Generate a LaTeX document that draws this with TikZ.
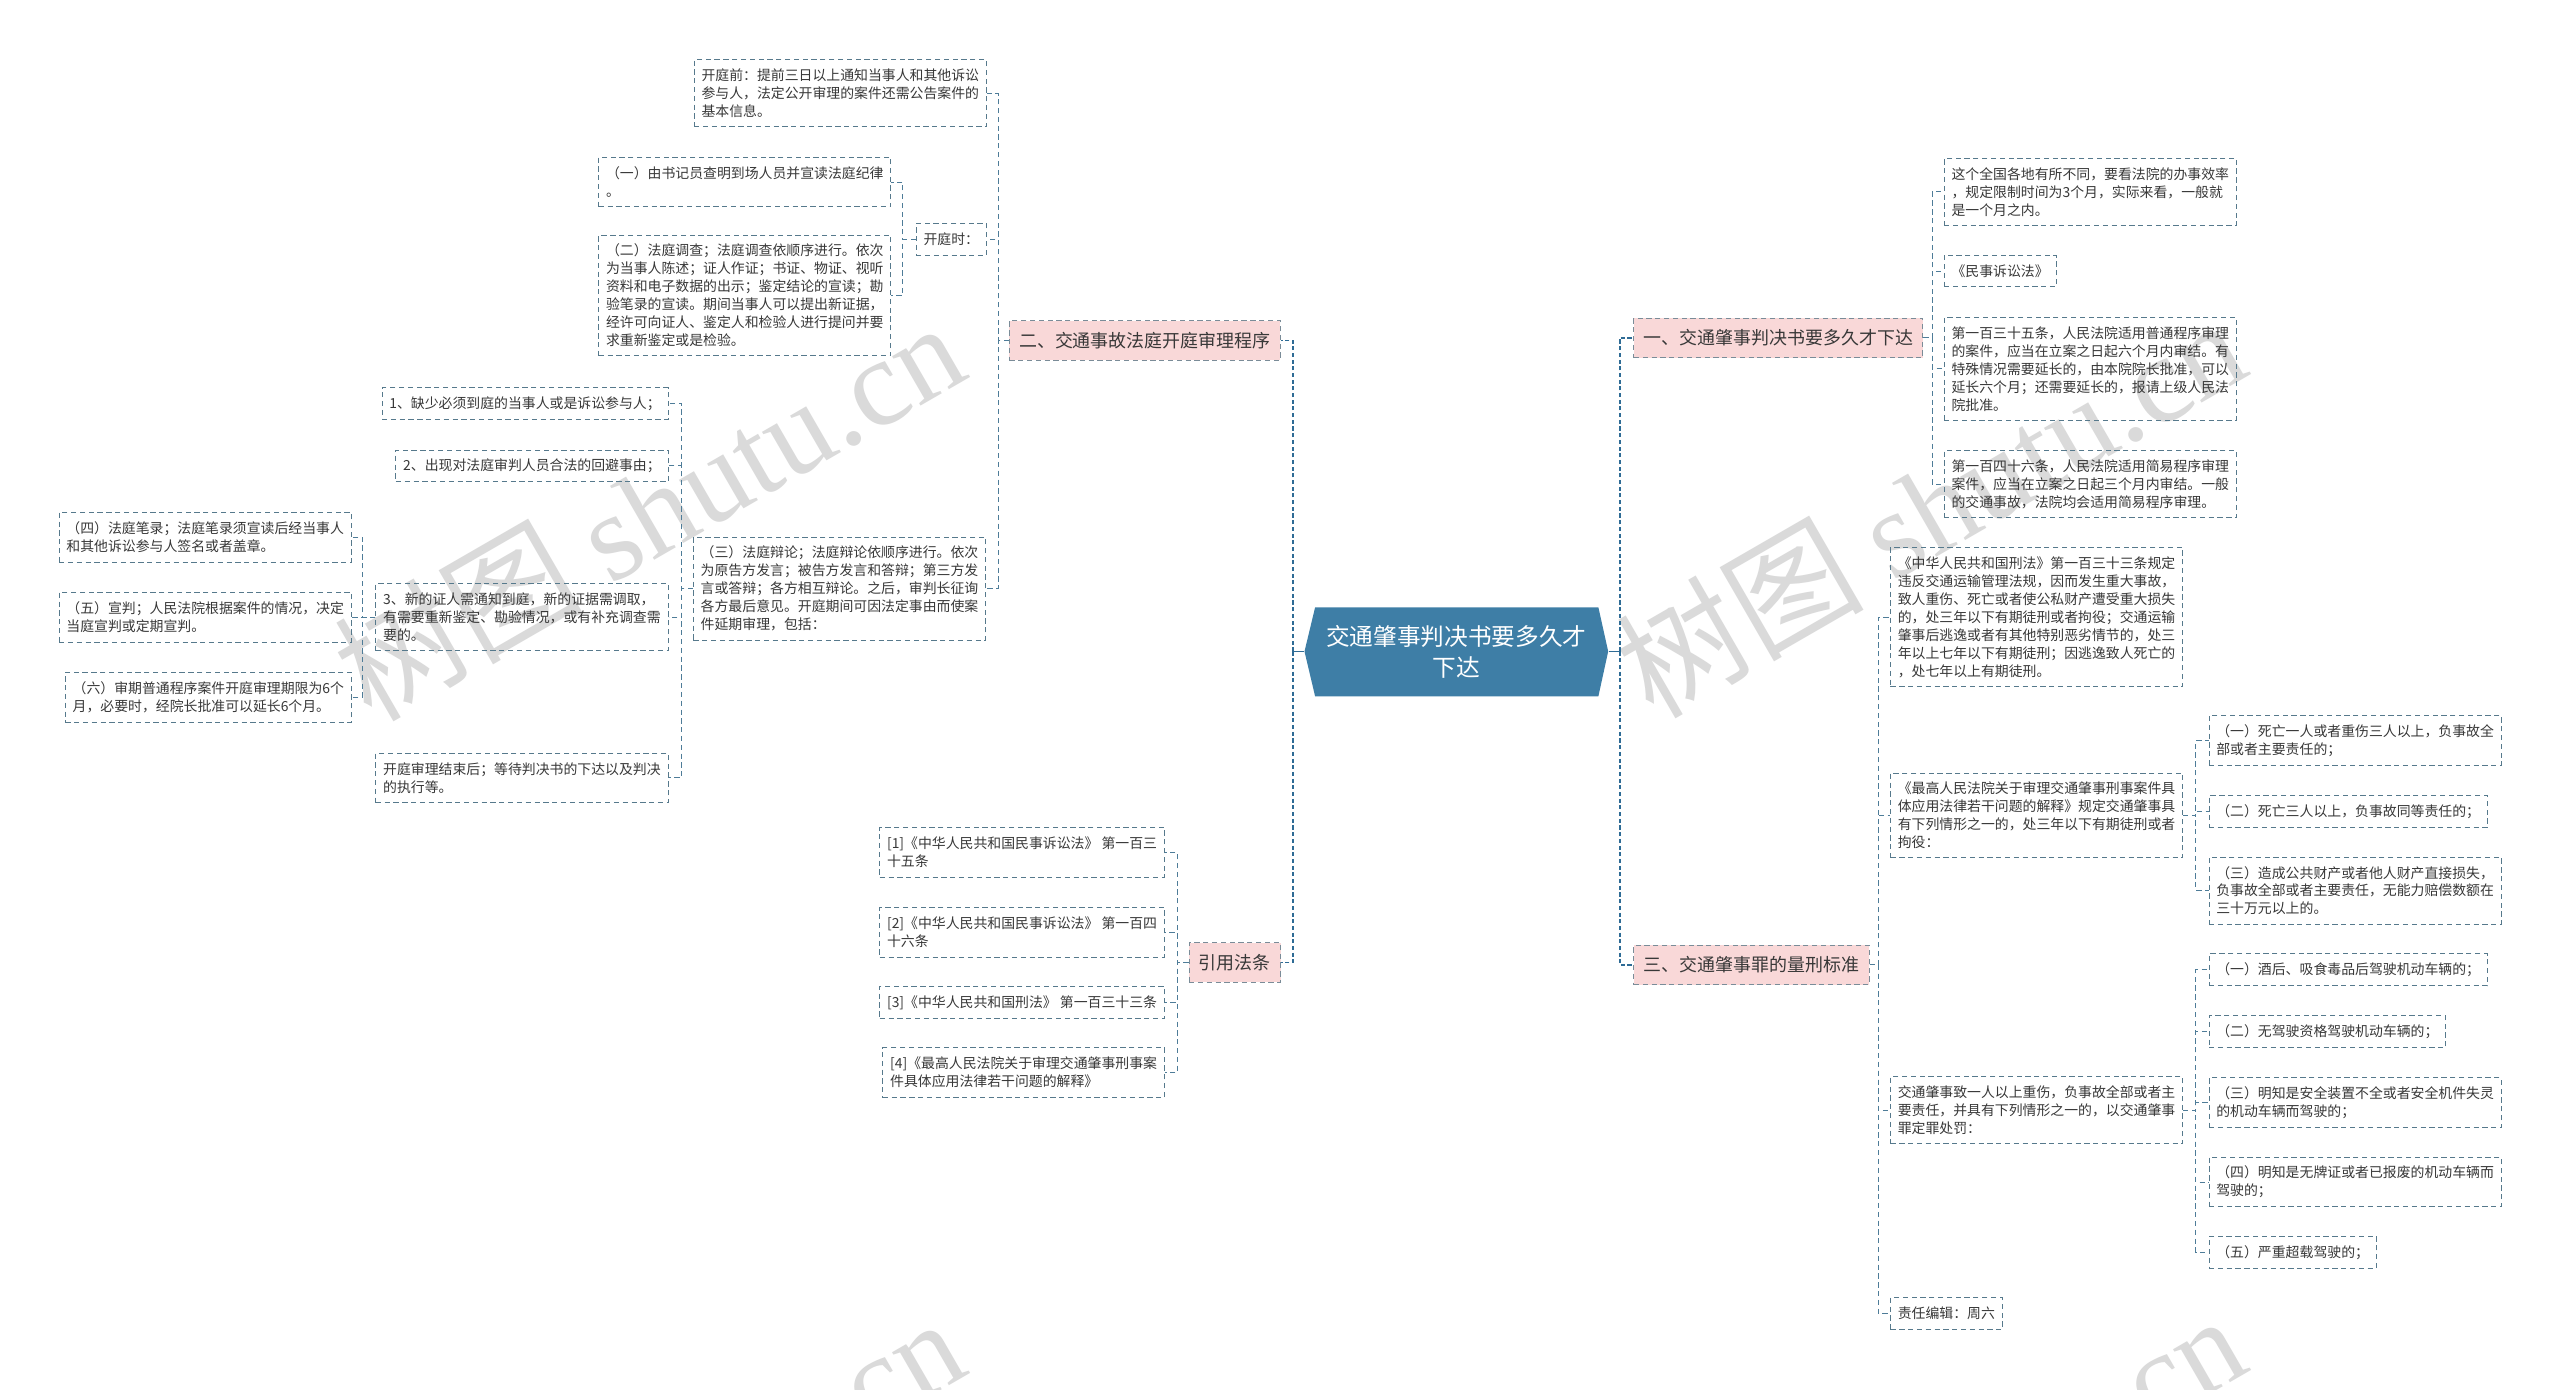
\documentclass[tikz,border=0pt]{standalone}
\usepackage{fontspec}
\setmainfont{Noto Sans CJK SC}
\newfontfamily\wmserif{Liberation Serif}
\usetikzlibrary{calc}
\definecolor{txt}{HTML}{383838}
\definecolor{leafbd}{HTML}{56798C}
\definecolor{connc}{HTML}{4E7C98}
\definecolor{trunkc}{HTML}{2E6B95}
\definecolor{pinkf}{HTML}{F9D8D8}
\definecolor{pinkbd}{HTML}{7A8C98}
\definecolor{hexc}{HTML}{3E7EA6}
\definecolor{wmc}{HTML}{DADADA}
\tikzset{
  leafbase/.style={draw=leafbd, line width=0.6pt, dash pattern=on 3.2pt off 2.2pt,
    inner xsep=4.5pt, inner ysep=2pt, align=left, text=txt,
    font=\fontsize{8.5}{11}\selectfont},
  leafL/.style={leafbase, anchor=east},
  leafR/.style={leafbase, anchor=west},
  ln1/.style={minimum height=19.5pt},
  ln2/.style={minimum height=30.5pt},
  ln3/.style={minimum height=41pt},
  ln4/.style={minimum height=52pt},
  ln5/.style={minimum height=63pt},
  ln6/.style={minimum height=73.5pt},
  ln7/.style={minimum height=85pt},
  branch/.style={draw=pinkbd, fill=pinkf, line width=0.6pt, dash pattern=on 3.2pt off 2.2pt,
    inner xsep=6pt, inner ysep=2pt, minimum height=24pt, text=txt,
    font=\fontsize{11}{13}\selectfont},
  conn/.style={draw=connc, line width=0.6pt, dash pattern=on 3.2pt off 2.2pt},
  trunk/.style={draw=trunkc, line width=1.1pt, dash pattern=on 2.5pt off 1.6pt},
  trunksolid/.style={draw=trunkc, line width=1.1pt},
  ctrtext/.style={text=white, align=center, font=\fontsize{14.5}{19}\selectfont, inner sep=0pt},
  wm/.style={rotate=30, text=wmc, font=\fontsize{76}{76}\selectfont, inner sep=0pt}
}
\begin{document}
\begin{tikzpicture}[x=1pt,y=-1pt]
\useasboundingbox (0,0) rectangle (1568,851);
\fill[white] (0,0) rectangle (1568,851);

% watermarks
\begin{scope}
\clip (0,0) rectangle (1568,851);
\node[wm] (wm1) at (397,312) {树图 {\wmserif shutu.cn}};
\node[wm] (wm2) at (1182,310) {树图 {\wmserif shutu.cn}};
\node[wm] (wm3) at (397,922) {树图 {\wmserif shutu.cn}};
\node[wm] (wm4) at (1182,920) {树图 {\wmserif shutu.cn}};
\end{scope}

% centre
\fill[hexc] (799,399) -- (805.5,372) -- (979,372) -- (985,399) -- (979,426.5) -- (805.5,426.5) -- cycle;
\node[ctrtext, minimum width=186pt, minimum height=54.5pt] (ctr) at (892,399) {交通肇事判决书要多久才\\下达};

% trunk coordinates
\coordinate (tL) at (792,399);
\coordinate (tR) at (992,399);
\coordinate (sB2) at (611.3,0);
\coordinate (sKT) at (553,0);
\coordinate (sG3) at (417.5,0);
\coordinate (sH3) at (222,0);
\coordinate (sRef) at (721,0);
\coordinate (sB1) at (1183.5,0);
\coordinate (sB3) at (1150.5,0);
\coordinate (sD2) at (1345,0);
\coordinate (sD3) at (1345,0);

% main branches
\node[branch, anchor=east] (b2) at (784.5,208.5) {二、交通事故法庭开庭审理程序};
\node[branch, anchor=east] (bref) at (784.6,589.5) {引用法条};
\node[branch, anchor=west] (b1) at (1000.5,207) {一、交通肇事判决书要多久才下达};
\node[branch, anchor=west] (b3) at (1000.5,591) {三、交通肇事罪的量刑标准};

\draw[trunksolid] (ctr.west) -- (tL);
\draw[trunksolid] (ctr.east) -- (tR);
\draw[trunk] (tL) |- (b2.east);
\draw[trunk] (tL) |- (bref.east);
\draw[trunk] (tR) |- (b1.west);
\draw[trunk] (tR) |- (b3.west);

% ---------- left: branch 二 ----------
\node[leafL, ln3] (g1) at (604.5,57) {开庭前：提前三日以上通知当事人和其他诉讼\\参与人，法定公开审理的案件还需公告案件的\\基本信息。};
\node[leafL, ln1] (g2) at (604.5,146.5) {开庭时：};
\node[leafL, ln2] (k1) at (546,111.5) {（一）由书记员查明到场人员并宣读法庭纪律\\。};
\node[leafL, ln6] (k2) at (546,181) {（二）法庭调查；法庭调查依顺序进行。依次\\为当事人陈述；证人作证；书证、物证、视听\\资料和电子数据的出示；鉴定结论的宣读；勘\\验笔录的宣读。期间当事人可以提出新证据，\\经许可向证人、鉴定人和检验人进行提问并要\\求重新鉴定或是检验。};
\node[leafL, ln5] (g3) at (604,360.5) {（三）法庭辩论；法庭辩论依顺序进行。依次\\为原告方发言；被告方发言和答辩；第三方发\\言或答辩；各方相互辩论。之后，审判长征询\\各方最后意见。开庭期间可因法定事由而使案\\件延期审理，包括：};
\node[leafL, ln1] (h1) at (409.5,247.3) {1、缺少必须到庭的当事人或是诉讼参与人；};
\node[leafL, ln1] (h2) at (409.5,285.4) {2、出现对法庭审判人员合法的回避事由；};
\node[leafL, ln3] (h3) at (409.5,378) {3、新的证人需通知到庭，新的证据需调取，\\有需要重新鉴定、勘验情况，或有补充调查需\\要的。};
\node[leafL, ln2] (h4) at (409.5,476.5) {开庭审理结束后；等待判决书的下达以及判决\\的执行等。};
\node[leafL, ln2] (i1) at (215.5,329) {（四）法庭笔录；法庭笔录须宣读后经当事人\\和其他诉讼参与人签名或者盖章。};
\node[leafL, ln2] (i2) at (215.5,378) {（五）宣判；人民法院根据案件的情况，决定\\当庭宣判或定期宣判。};
\node[leafL, ln2] (i3) at (215.5,427) {（六）审期普通程序案件开庭审理期限为6个\\月，必要时，经院长批准可以延长6个月。};

\draw[conn] (b2.west) -- (b2.west -| sB2) |- (g1.east);
\draw[conn] (b2.west) -- (b2.west -| sB2) |- (g2.east);
\draw[conn] (b2.west) -- (b2.west -| sB2) |- (g3.east);
\draw[conn] (g2.west) -- (g2.west -| sKT) |- (k1.east);
\draw[conn] (g2.west) -- (g2.west -| sKT) |- (k2.east);
\draw[conn] (g3.west) -- (g3.west -| sG3) |- (h1.east);
\draw[conn] (g3.west) -- (g3.west -| sG3) |- (h2.east);
\draw[conn] (g3.west) -- (g3.west -| sG3) |- (h3.east);
\draw[conn] (g3.west) -- (g3.west -| sG3) |- (h4.east);
\draw[conn] (h3.west) -- (h3.west -| sH3) |- (i1.east);
\draw[conn] (h3.west) -- (h3.west -| sH3) |- (i2.east);
\draw[conn] (h3.west) -- (h3.west -| sH3) |- (i3.east);

% ---------- left: 引用法条 ----------
\node[leafL, ln2] (j1) at (713.5,522) {[1]《中华人民共和国民事诉讼法》 第一百三\\十五条};
\node[leafL, ln2] (j2) at (713.5,571) {[2]《中华人民共和国民事诉讼法》 第一百四\\十六条};
\node[leafL, ln1] (j3) at (713.5,614) {[3]《中华人民共和国刑法》 第一百三十三条};
\node[leafL, ln2] (j4) at (713.5,657) {[4]《最高人民法院关于审理交通肇事刑事案\\件具体应用法律若干问题的解释》};
\draw[conn] (bref.west) -- (bref.west -| sRef) |- (j1.east);
\draw[conn] (bref.west) -- (bref.west -| sRef) |- (j2.east);
\draw[conn] (bref.west) -- (bref.west -| sRef) |- (j3.east);
\draw[conn] (bref.west) -- (bref.west -| sRef) |- (j4.east);

% ---------- right: branch 一 ----------
\node[leafR, ln3] (c1) at (1190.5,117.5) {这个全国各地有所不同，要看法院的办事效率\\，规定限制时间为3个月，实际来看，一般就\\是一个月之内。};
\node[leafR, ln1] (c2) at (1190.5,166) {《民事诉讼法》};
\node[leafR, ln5] (c3) at (1190.5,226) {第一百三十五条，人民法院适用普通程序审理\\的案件，应当在立案之日起六个月内审结。有\\特殊情况需要延长的，由本院院长批准，可以\\延长六个月；还需要延长的，报请上级人民法\\院批准。};
\node[leafR, ln3] (c4) at (1190.5,296.5) {第一百四十六条，人民法院适用简易程序审理\\案件，应当在立案之日起三个月内审结。一般\\的交通事故，法院均会适用简易程序审理。};
\draw[conn] (b1.east) -- (b1.east -| sB1) |- (c1.west);
\draw[conn] (b1.east) -- (b1.east -| sB1) |- (c2.west);
\draw[conn] (b1.east) -- (b1.east -| sB1) |- (c3.west);
\draw[conn] (b1.east) -- (b1.east -| sB1) |- (c4.west);

% ---------- right: branch 三 ----------
\node[leafR, ln7] (d1) at (1157.6,378) {《中华人民共和国刑法》第一百三十三条规定\\违反交通运输管理法规，因而发生重大事故，\\致人重伤、死亡或者使公私财产遭受重大损失\\的，处三年以下有期徒刑或者拘役；交通运输\\肇事后逃逸或者有其他特别恶劣情节的，处三\\年以上七年以下有期徒刑；因逃逸致人死亡的\\，处七年以上有期徒刑。};
\node[leafR, ln4] (d2) at (1157.6,499.5) {《最高人民法院关于审理交通肇事刑事案件具\\体应用法律若干问题的解释》规定交通肇事具\\有下列情形之一的，处三年以下有期徒刑或者\\拘役：};
\node[leafR, ln3] (d3) at (1157.6,680) {交通肇事致一人以上重伤，负事故全部或者主\\要责任，并具有下列情形之一的，以交通肇事\\罪定罪处罚：};
\node[leafR, ln1] (d4) at (1157.6,804.5) {责任编辑：周六};
\draw[conn] (b3.east) -- (b3.east -| sB3) |- (d1.west);
\draw[conn] (b3.east) -- (b3.east -| sB3) |- (d2.west);
\draw[conn] (b3.east) -- (b3.east -| sB3) |- (d3.west);
\draw[conn] (b3.east) -- (b3.east -| sB3) |- (d4.west);

\node[leafR, ln2] (e1) at (1352.7,453.5) {（一）死亡一人或者重伤三人以上，负事故全\\部或者主要责任的；};
\node[leafR, ln1] (e2) at (1352.7,497) {（二）死亡三人以上，负事故同等责任的；};
\node[leafR, ln3] (e3) at (1352.7,545.5) {（三）造成公共财产或者他人财产直接损失，\\负事故全部或者主要责任，无能力赔偿数额在\\三十万元以上的。};
\draw[conn] (d2.east) -- (d2.east -| sD2) |- (e1.west);
\draw[conn] (d2.east) -- (d2.east -| sD2) |- (e2.west);
\draw[conn] (d2.east) -- (d2.east -| sD2) |- (e3.west);

\node[leafR, ln1] (f1) at (1352.7,594) {（一）酒后、吸食毒品后驾驶机动车辆的；};
\node[leafR, ln1] (f2) at (1352.7,632) {（二）无驾驶资格驾驶机动车辆的；};
\node[leafR, ln2] (f3) at (1352.7,675.5) {（三）明知是安全装置不全或者安全机件失灵\\的机动车辆而驾驶的；};
\node[leafR, ln2] (f4) at (1352.7,724) {（四）明知是无牌证或者已报废的机动车辆而\\驾驶的；};
\node[leafR, ln1] (f5) at (1352.7,767) {（五）严重超载驾驶的；};
\draw[conn] (d3.east) -- (d3.east -| sD3) |- (f1.west);
\draw[conn] (d3.east) -- (d3.east -| sD3) |- (f2.west);
\draw[conn] (d3.east) -- (d3.east -| sD3) |- (f3.west);
\draw[conn] (d3.east) -- (d3.east -| sD3) |- (f4.west);
\draw[conn] (d3.east) -- (d3.east -| sD3) |- (f5.west);
\end{tikzpicture}
\end{document}
